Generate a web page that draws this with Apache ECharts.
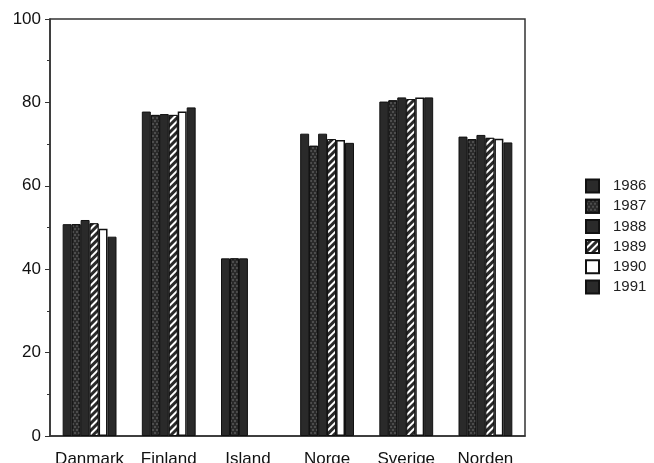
<!DOCTYPE html>
<html>
<head>
<meta charset="utf-8">
<script src="https://cdn.jsdelivr.net/npm/echarts@6/dist/echarts.min.js"></script>
<style>html,body{margin:0;padding:0;background:#fff}#c{width:654px;height:463px}</style>
</head>
<body>
<div id="c"></div>
<script>
const categories = ['Danmark', 'Finland', 'Island', 'Norge', 'Sverige', 'Norden'];
const years = ['1986', '1987', '1988', '1989', '1990', '1991'];
const v1986 = [50.8, 77.8, 42.6, 72.5, 80.2, 71.8];
const v1987 = [50.8, 77.0, 42.6, 69.6, 80.5, 71.2];
const v1988 = [51.8, 77.2, 42.6, 72.5, 81.2, 72.2];
const v1989 = [51.0, 77.0, null, 71.2, 80.8, 71.5];
const v1990 = [49.7, 77.8, null, 71.0, 81.2, 71.3];
const v1991 = [47.8, 78.8, null, 70.3, 81.2, 70.4];
const yTicks = [0, 20, 40, 60, 80, 100];

const values = [v1986, v1987, v1988, v1989, v1990, v1991];
const dark = '#2a2a2a';
const font = 'Liberation Sans, Arial, Helvetica, sans-serif';
const styles = [
  { color: dark, borderColor: '#111', borderWidth: 1 },
  { color: dark, borderColor: '#111', borderWidth: 1,
    decal: { symbol: 'circle', symbolSize: 0.7, dashArrayX: [[2, 2], [0, 2, 2, 0]], dashArrayY: [2, 1], color: 'rgba(150,150,150,0.9)' } },
  { color: dark, borderColor: '#111', borderWidth: 1 },
  { color: dark, borderColor: '#111', borderWidth: 1,
    decal: { symbol: 'rect', dashArrayX: [1, 0], dashArrayY: [2, 3], rotation: -Math.PI / 4, color: '#ffffff' } },
  { color: '#ffffff', borderColor: '#111', borderWidth: 1.5 },
  { color: dark, borderColor: '#111', borderWidth: 1 }
];

const chart = echarts.init(document.getElementById('c'));
chart.setOption({
  animation: false,
  backgroundColor: '#fff',
  grid: { left: 50, right: 129, top: 19, bottom: 27, outerBoundsMode: 'none', containLabel: false,
    show: true, borderColor: '#333', borderWidth: 1.5, backgroundColor: 'transparent' },
  legend: {
    orient: 'vertical', left: 580, top: 173.5,
    icon: 'rect', itemWidth: 13, itemHeight: 13, itemGap: 5.2,
    textStyle: { fontFamily: font, fontSize: 15, color: '#222', padding: [0, 0, 0, 9] },
    data: years
  },
  xAxis: {
    type: 'category', data: categories,
    axisLine: { lineStyle: { color: '#333', width: 1.5 } },
    axisTick: { inside: true, length: 4, lineStyle: { color: '#333' } },
    axisLabel: { interval: 0, hideOverlap: false, margin: 15, fontFamily: font, fontSize: 17, color: '#111' }
  },
  yAxis: {
    type: 'value', min: 0, max: 100, interval: 20,
    axisLine: { show: true, lineStyle: { color: '#333', width: 1.5 } },
    axisTick: { show: true, length: 5, lineStyle: { color: '#333' } },
    minorTick: { show: true, splitNumber: 2, length: 3, lineStyle: { color: '#333' } },
    splitLine: { show: false },
    axisLabel: { margin: 9, fontFamily: font, fontSize: 17, color: '#111',
      formatter: v => yTicks.includes(v) ? String(v) : '' }
  },
  series: years.map((y, i) => ({
    name: y, type: 'bar', data: values[i],
    barGap: '0%', barCategoryGap: '32%',
    itemStyle: styles[i]
  }))
});
</script>
</body>
</html>
